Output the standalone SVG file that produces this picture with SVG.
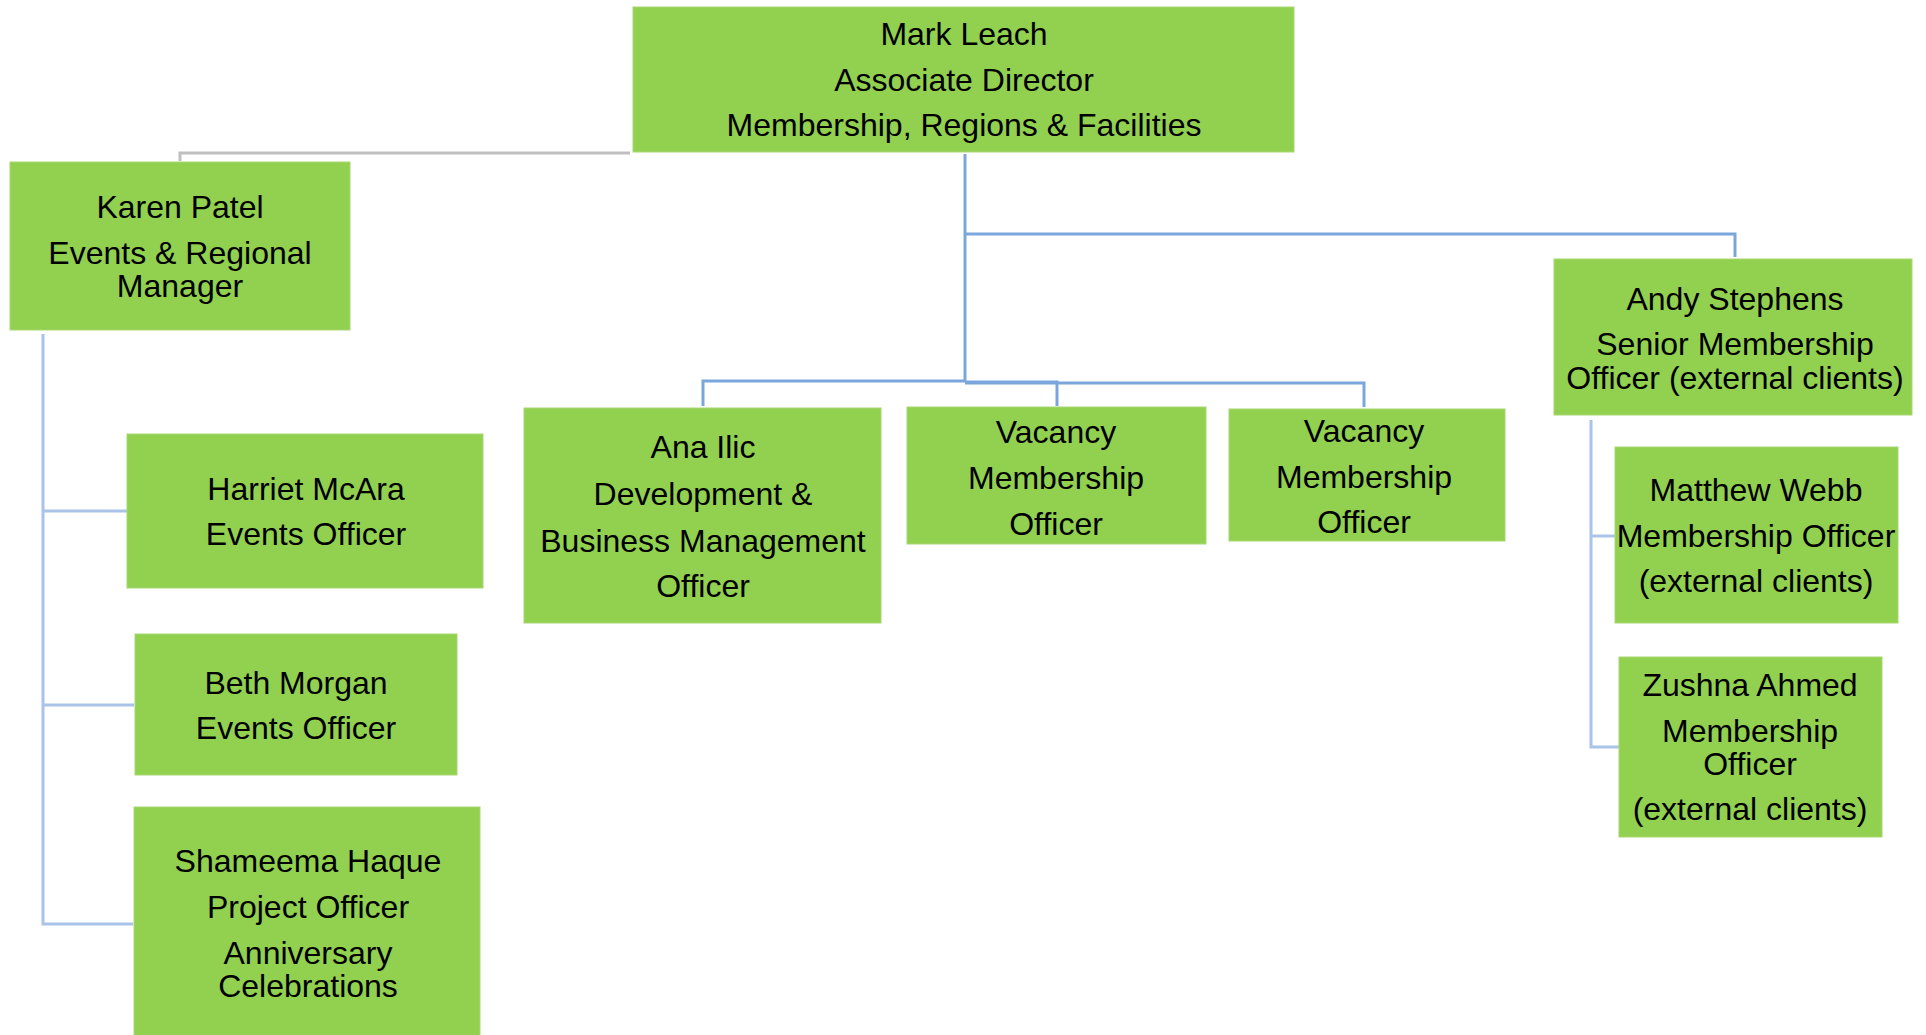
<svg xmlns="http://www.w3.org/2000/svg" width="1926" height="1035" viewBox="0 0 1926 1035">
<style>
.box{fill:#92d050;stroke:#a8d872;stroke-width:1}
text{font-family:"Liberation Sans",Arial,sans-serif;font-size:32px;fill:#000;text-anchor:middle}
.c1{fill:none;stroke:#7aa6dc;stroke-width:3}
.c2{fill:none;stroke:#a9c4e8;stroke-width:3}
.cg{fill:none;stroke:#bfbfbf;stroke-width:3}
</style>
<rect width="1926" height="1035" fill="#fff"/>
<g id="connectors">
<path class="cg" d="M630 153 H180 V161"/>
<path class="c1" d="M965 154 V382"/>
<path class="c1" d="M965 234 H1735 V257"/>
<path class="c1" d="M965 381 H703 V406"/>
<path class="c1" d="M965 382 H1057 V406"/>
<path class="c1" d="M965 383 H1364 V407"/>
<path class="c2" d="M43 334 V924 H133"/>
<path class="c2" d="M43 511 H127"/>
<path class="c2" d="M43 705 H134"/>
<path class="c2" d="M1591 420 V747 H1619"/>
<path class="c2" d="M1591 536 H1615"/>
</g>
<g id="mark">
<rect class="box" x="633" y="7" width="661" height="145"/>
<text x="964" y="45">Mark Leach</text>
<text x="964" y="91">Associate Director</text>
<text x="964" y="136">Membership, Regions &amp; Facilities</text>
</g>
<g id="karen">
<rect class="box" x="10" y="162" width="340" height="168"/>
<text x="180" y="218">Karen Patel</text>
<text x="180" y="264">Events &amp; Regional</text>
<text x="180" y="297">Manager</text>
</g>
<g id="harriet">
<rect class="box" x="127" y="434" width="356" height="154"/>
<text x="306" y="500">Harriet McAra</text>
<text x="306" y="545">Events Officer</text>
</g>
<g id="beth">
<rect class="box" x="135" y="634" width="322" height="141"/>
<text x="296" y="694">Beth Morgan</text>
<text x="296" y="739">Events Officer</text>
</g>
<g id="shameema">
<rect class="box" x="134" y="807" width="346" height="235"/>
<text x="308" y="872">Shameema Haque</text>
<text x="308" y="918">Project Officer</text>
<text x="308" y="964">Anniversary</text>
<text x="308" y="997">Celebrations</text>
</g>
<g id="ana">
<rect class="box" x="524" y="408" width="357" height="215"/>
<text x="703" y="458">Ana Ilic</text>
<text x="703" y="505">Development &amp;</text>
<text x="703" y="552">Business Management</text>
<text x="703" y="597">Officer</text>
</g>
<g id="vacancy1">
<rect class="box" x="907" y="407" width="299" height="137"/>
<text x="1056" y="443">Vacancy</text>
<text x="1056" y="489">Membership</text>
<text x="1056" y="535">Officer</text>
</g>
<g id="vacancy2">
<rect class="box" x="1229" y="409" width="276" height="132"/>
<text x="1364" y="442">Vacancy</text>
<text x="1364" y="488">Membership</text>
<text x="1364" y="533">Officer</text>
</g>
<g id="andy">
<rect class="box" x="1554" y="259" width="358" height="156"/>
<text x="1735" y="310">Andy Stephens</text>
<text x="1735" y="355">Senior Membership</text>
<text x="1735" y="389">Officer (external clients)</text>
</g>
<g id="matthew">
<rect class="box" x="1615" y="447" width="283" height="176"/>
<text x="1756" y="501">Matthew Webb</text>
<text x="1756" y="547">Membership Officer</text>
<text x="1756" y="592">(external clients)</text>
</g>
<g id="zushna">
<rect class="box" x="1619" y="657" width="263" height="180"/>
<text x="1750" y="696">Zushna Ahmed</text>
<text x="1750" y="742">Membership</text>
<text x="1750" y="775">Officer</text>
<text x="1750" y="820">(external clients)</text>
</g>
</svg>
